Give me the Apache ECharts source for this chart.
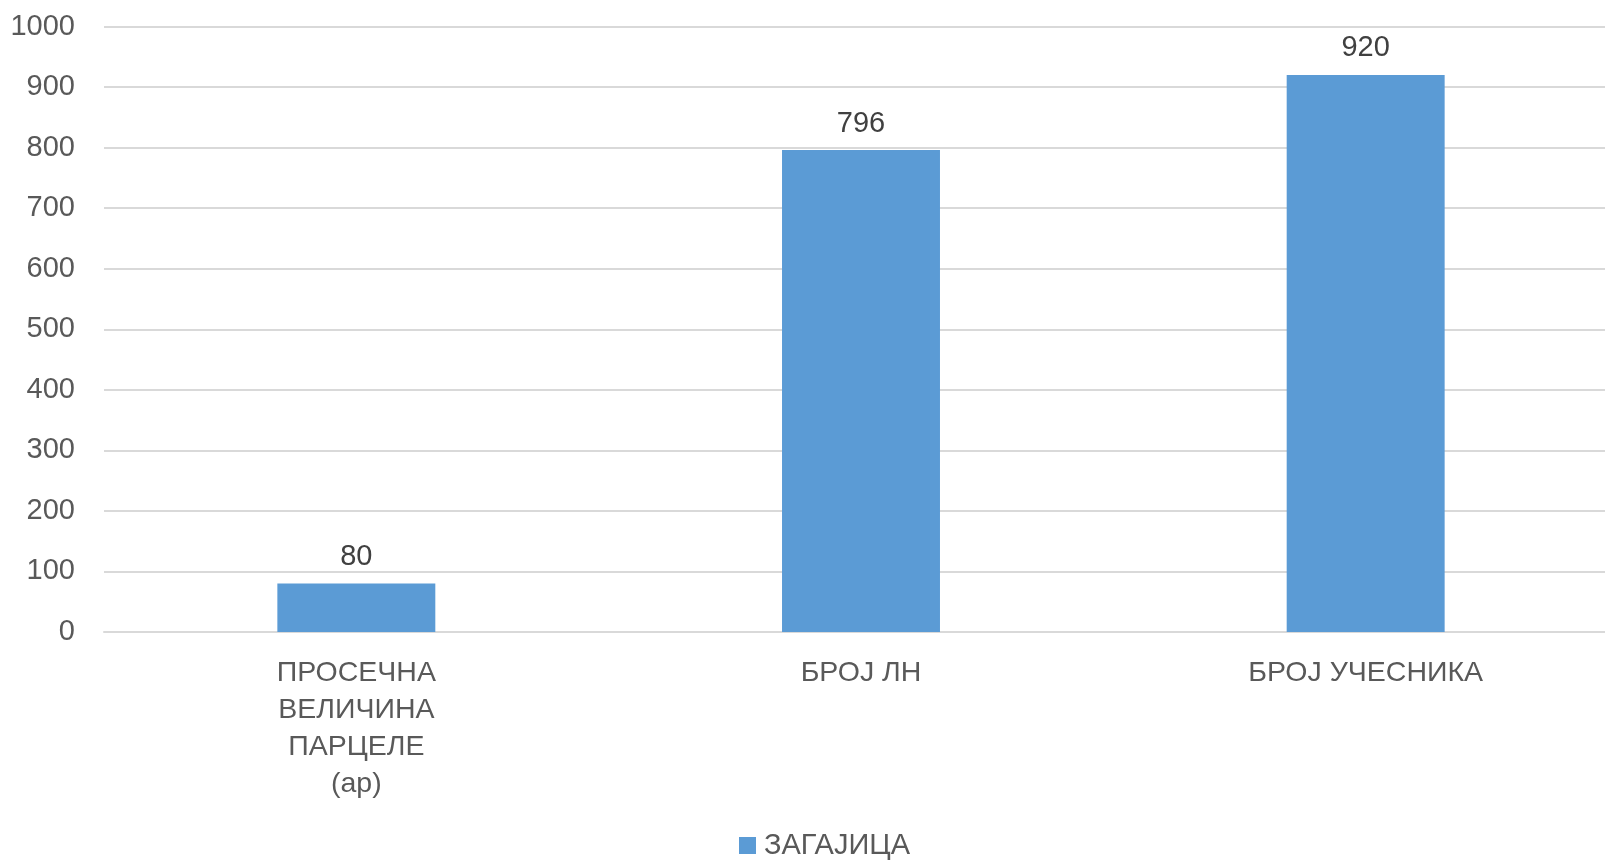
<!DOCTYPE html>
<html><head><meta charset="utf-8">
<script src="https://cdn.jsdelivr.net/npm/echarts@6/dist/echarts.min.js"></script>
<style>html,body{margin:0;padding:0;background:#fff}#c{width:1605px;height:861px}</style>
</head><body><div id="c"></div>
<script>
const categories = ['ПРОСЕЧНА\nВЕЛИЧИНА\nПАРЦЕЛЕ\n(ар)', 'БРОЈ ЛН', 'БРОЈ УЧЕСНИКА'];
const seriesName = 'ЗАГАЈИЦА';
const values = [80, 796, 920];
const yMin = 0, yMax = 1000, yStep = 100;

const FONT = 'Liberation Sans';
const chart = echarts.init(document.getElementById('c'));
chart.setOption({
  animation: false,
  textStyle: {fontFamily: FONT},
  grid: {left: 104, width: 1514, top: 26.5, bottom: 229, containLabel: false, outerBoundsMode: 'none'},
  legend: {
    data: [seriesName], left: 734, top: 826, itemWidth: 17, itemHeight: 17, itemGap: 0,
    icon: 'rect',
    textStyle: {color: '#595959', fontSize: 29, fontFamily: FONT, padding: [0,0,0,3]}
  },
  xAxis: {
    type: 'category', data: categories,
    axisLine: {lineStyle: {color: '#D9D9D9', width: 2}},
    axisTick: {show: false},
    axisLabel: {color: '#595959', fontSize: 28.5, lineHeight: 37, margin: 23, interval: 0, fontFamily: FONT}
  },
  yAxis: {
    type: 'value', min: yMin, max: yMax, interval: yStep,
    axisLine: {show: false}, axisTick: {show: false},
    splitLine: {lineStyle: {color: '#D9D9D9', width: 2}},
    axisLabel: {color: '#595959', fontSize: 29, margin: 29, fontFamily: FONT, formatter: v => String(v)}
  },
  series: [{
    name: seriesName, type: 'bar', data: values, barWidth: '31.3%',
    itemStyle: {color: '#5B9BD5'},
    label: {show: true, position: 'top', distance: 12, color: '#404040', fontSize: 29, fontFamily: FONT}
  }]
});
</script></body></html>
